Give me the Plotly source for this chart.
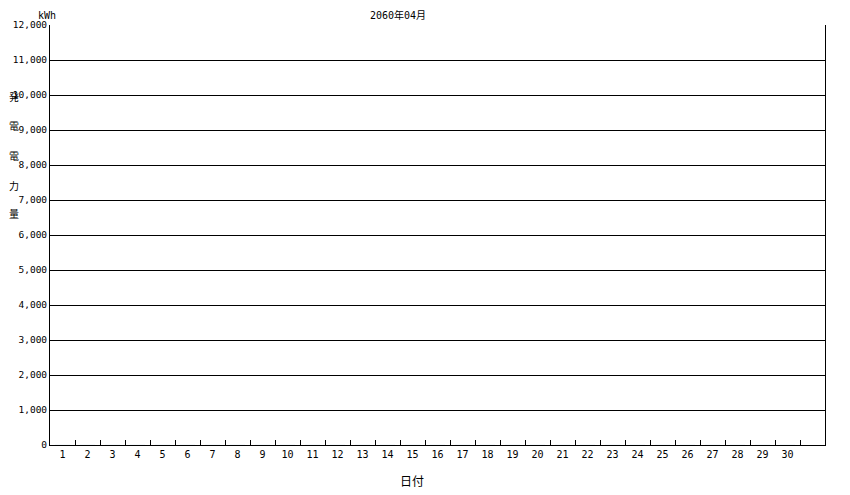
import plotly.graph_objects as go

# data
days = list(range(1, 31))
day_labels = [str(d) for d in days]
energy_kwh = [0, 0, 0, 0, 0, 0, 0, 0, 0, 0,
              0, 0, 0, 0, 0, 0, 0, 0, 0, 0,
              0, 0, 0, 0, 0, 0, 0, 0, 0, 0]
y_ticks = list(range(0, 12001, 1000))
title_text = "2060年04月"
y_unit = "kWh"
y_title = "発電電力量"
x_title = "日付"

FONT = "DejaVu Sans Mono, Noto Sans CJK JP, monospace"

# page body has an 8px margin, so the figure is a bit smaller than the window
fig = go.Figure()
fig.add_trace(go.Bar(x=days, y=energy_kwh, marker_color="rgb(0,0,255)",
                     width=0.6, showlegend=False))

fig.update_layout(
    width=842, height=487, autosize=False,
    margin=dict(l=42, r=25, t=17, b=50, autoexpand=False),
    paper_bgcolor="white", plot_bgcolor="white",
    font=dict(family=FONT, size=10, color="black"),
    showlegend=False,
)

fig.update_xaxes(
    range=[0.5, 31.5], tickvals=days, ticktext=day_labels,
    ticks="", showgrid=False, zeroline=False,
    showline=True, linecolor="black", linewidth=1,
    tickfont=dict(family=FONT, size=10),
    minor=dict(tickvals=[d + 0.5 for d in days], ticks="inside",
               ticklen=5, tickcolor="black", tickwidth=1, showgrid=False),
)
fig.update_yaxes(
    range=[0, 12000], tickvals=y_ticks, tickformat=",d",
    ticks="", showgrid=True, gridcolor="black", gridwidth=1,
    zeroline=False, showline=True, linecolor="black", linewidth=1,
    mirror=True, ticklabelstandoff=0,
    tickfont=dict(family=FONT, size=9.5),
)

# title, unit and axis titles (positions in page pixels -> paper coords)
def px(x):
    return (x - 50) / 775

def py(y):
    return (445 - y) / 420

fig.add_annotation(text=title_text, xref="paper", yref="paper",
                   x=px(398), y=py(15), xanchor="center", yanchor="middle",
                   showarrow=False, font=dict(size=10))
fig.add_annotation(text=y_unit, xref="paper", yref="paper",
                   x=px(47), y=py(15), xanchor="center", yanchor="middle",
                   showarrow=False, font=dict(size=10))
# stacked vertical title, one character per line, left edge on the figure's edge
for i, ch in enumerate(y_title):
    fig.add_annotation(text=ch, xref="paper", yref="paper",
                       x=px(8), y=py(97 + 29.5 * i), xanchor="left", yanchor="middle",
                       showarrow=False, font=dict(size=10), borderpad=0)
fig.add_annotation(text=x_title, xref="paper", yref="paper",
                   x=px(412), y=py(482), xanchor="center", yanchor="middle",
                   showarrow=False, font=dict(size=12))

fig.write_html("out.html")
